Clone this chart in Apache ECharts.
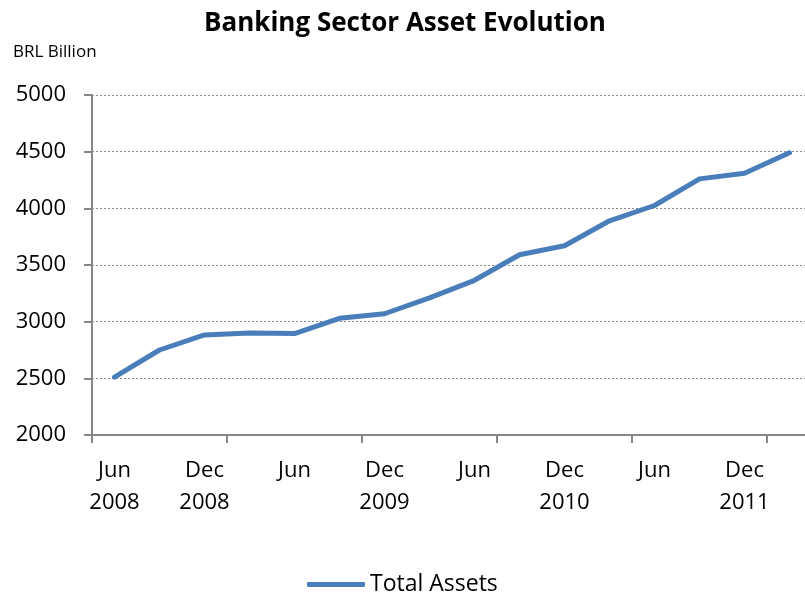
<!DOCTYPE html>
<html>
<head>
<meta charset="utf-8">
<script src="https://cdn.jsdelivr.net/npm/echarts@6/dist/echarts.min.js"></script>
<style>
  html, body { margin: 0; padding: 0; background: #fff; overflow: hidden; }
  /* the plot runs slightly past the right edge of the window */
  #chart { width: 812px; height: 601px; }
</style>
</head>
<body>
<div id="chart"></div>
<script>
// Quarter-end dates, June 2008 to March 2012
const categories = [
  'Jun\n2008', 'Sep 2008', 'Dec\n2008', 'Mar 2009',
  'Jun', 'Sep 2009', 'Dec\n2009', 'Mar 2010',
  'Jun', 'Sep 2010', 'Dec\n2010', 'Mar 2011',
  'Jun', 'Sep 2011', 'Dec\n2011', 'Mar 2012'
];

// Total assets of the banking sector, BRL billion
const totalAssets = [
  2510, 2750, 2883, 2900, 2895, 3030, 3070, 3210,
  3365, 3590, 3670, 3890, 4025, 4260, 4310, 4490
];

const yTicks = { min: 2000, max: 5000, interval: 500 };

const FONT = '"Open Sans", "Noto Sans", sans-serif';

const chart = echarts.init(document.getElementById('chart'), null, { renderer: 'canvas' });

chart.setOption({
  animation: false,
  backgroundColor: '#ffffff',
  title: [
    {
      text: 'Banking Sector Asset Evolution',
      left: 400,
      textAlign: 'center',
      top: 6,
      textStyle: { fontFamily: FONT, fontWeight: 'bold', fontSize: 26, color: '#000' }
    },
    {
      text: 'BRL Billion',
      left: 8,
      top: 39,
      textStyle: { fontFamily: FONT, fontWeight: 'normal', fontSize: 17, color: '#000' }
    }
  ],
  legend: {
    bottom: 0,
    left: 302,
    itemWidth: 58,
    itemHeight: 5,
    icon: 'roundRect',
    itemGap: 4,
    textStyle: { fontFamily: FONT, fontSize: 23, color: '#000' },
    data: ['Total Assets']
  },
  grid: { left: 92, right: 0, top: 95, bottom: 166 },
  xAxis: {
    type: 'category',
    data: categories,
    boundaryGap: true,
    axisLine: { lineStyle: { color: '#868686', width: 2 } },
    axisTick: { show: true, interval: 2, length: 8, lineStyle: { color: '#868686', width: 2 } },
    axisLabel: {
      interval: 1,
      margin: 20,
      fontFamily: FONT,
      fontSize: 22,
      lineHeight: 32,
      color: '#000'
    },
    splitLine: { show: false }
  },
  yAxis: {
    type: 'value',
    min: yTicks.min,
    max: yTicks.max,
    interval: yTicks.interval,
    axisLine: { show: true, lineStyle: { color: '#868686', width: 2 } },
    axisTick: { show: true, length: 8, lineStyle: { color: '#868686', width: 2 } },
    axisLabel: {
      margin: 26,
      fontFamily: FONT,
      fontSize: 22,
      color: '#000',
      formatter: (v) => String(v)
    },
    splitLine: { show: true, lineStyle: { color: '#8c8c8c', type: [2, 2], width: 1 } }
  },
  series: [
    {
      name: 'Total Assets',
      type: 'line',
      data: totalAssets,
      symbol: 'none',
      lineStyle: { color: '#4a7ebb', width: 5, cap: 'round', join: 'round' },
      itemStyle: { color: '#4a7ebb' }
    }
  ]
});
</script>
</body>
</html>
